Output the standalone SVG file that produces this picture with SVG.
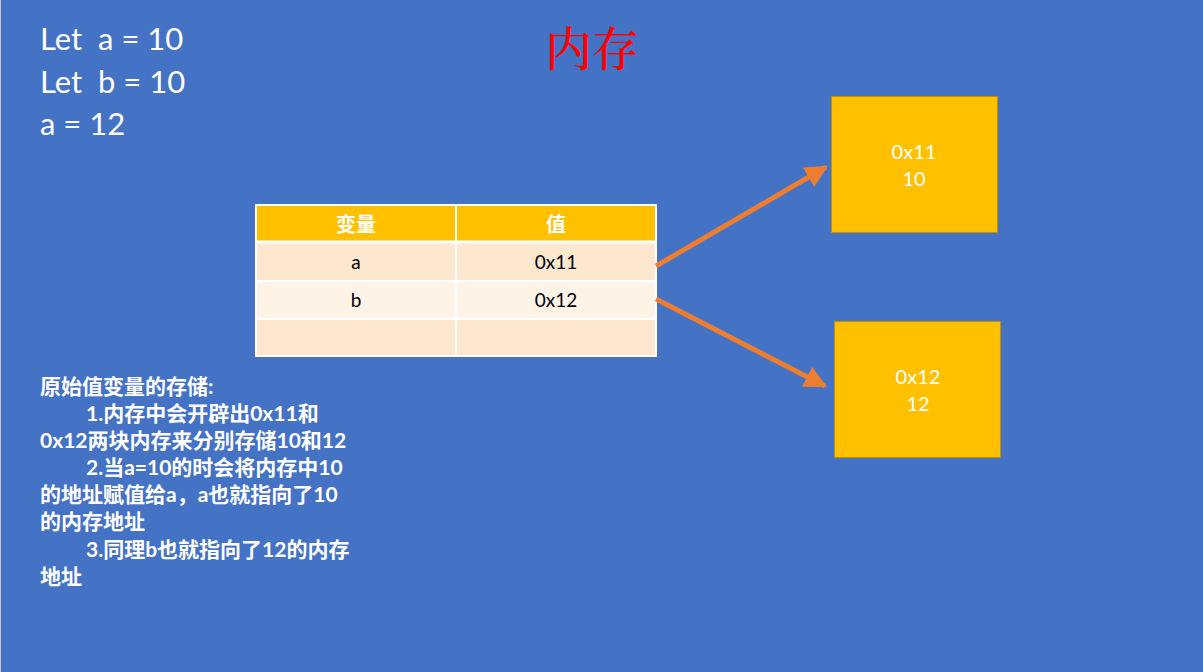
<svg xmlns="http://www.w3.org/2000/svg" width="1203" height="672" viewBox="0 0 1203 672">
<style>
.code{font-family:Lato,"Liberation Sans","Noto Sans CJK SC",sans-serif;font-size:31px;fill:#fff}
.th{font-family:"Noto Sans CJK SC",sans-serif;font-size:20px;font-weight:bold;fill:#fff;text-anchor:middle}
.td{font-family:Lato,"Liberation Sans",sans-serif;font-size:19px;fill:#000;text-anchor:middle}
.bx{font-family:Lato,"Liberation Sans",sans-serif;font-size:20px;fill:#fff;text-anchor:middle}
.note{font-family:Lato,"Noto Sans CJK SC",sans-serif;font-size:21px;fill:#fff;font-weight:bold}
.box{fill:#FFC000;stroke:#BF9000;stroke-width:1}
.conn{stroke:#ED7D31;stroke-width:5;fill:none;marker-end:url(#ah)}
</style>
<defs>
<marker id="ah" viewBox="0 0 10 10" refX="9" refY="5" markerWidth="4.5" markerHeight="4.5" orient="auto" markerUnits="strokeWidth">
<path d="M0,0 L10,5 L0,10 z" fill="#ED7D31"/>
</marker>
</defs>
<rect x="0" y="0" width="1203" height="672" fill="#4472C4"/>
<line x1="0.5" y1="0" x2="0.5" y2="672" stroke="#c8c8c8" stroke-width="1"/>
<g id="code">
<text class="code" x="40" y="50" xml:space="preserve">Let  a = 10</text>
<text class="code" x="40" y="93" xml:space="preserve">Let  b = 10</text>
<text class="code" x="40" y="135">a = 12</text>
</g>
<g id="title">
<text x="592" y="66" font-family="'Noto Serif CJK SC','Noto Sans CJK SC',serif" font-size="47" font-weight="500" fill="#FF0000" text-anchor="middle">内存</text>
</g>
<g id="table">
<rect x="256" y="205" width="400" height="37" fill="#FFC000"/>
<rect x="256" y="242" width="400" height="39" fill="#FDE7CE"/>
<rect x="256" y="281" width="400" height="38" fill="#FEF3E7"/>
<rect x="256" y="319" width="400" height="37" fill="#FDE7CE"/>
<g stroke="#fff" stroke-width="2" fill="none">
<rect x="256" y="205" width="400" height="151"/>
<line x1="456" y1="205" x2="456" y2="356"/>
<line x1="256" y1="242" x2="656" y2="242" stroke-width="3"/>
<line x1="256" y1="281" x2="656" y2="281"/>
<line x1="256" y1="319" x2="656" y2="319"/>
</g>
<text class="th" x="356" y="232">变量</text>
<text class="th" x="556" y="232">值</text>
<text class="td" x="356" y="269">a</text>
<text class="td" x="556" y="269">0x11</text>
<text class="td" x="356" y="307">b</text>
<text class="td" x="556" y="307">0x12</text>
</g>
<g id="box1">
<rect class="box" x="831.5" y="96.5" width="166" height="136"/>
<text class="bx" x="914" y="159">0x11</text>
<text class="bx" x="914" y="186">10</text>
</g>
<g id="box2">
<rect class="box" x="834.5" y="321.5" width="166" height="136"/>
<text class="bx" x="918" y="384">0x12</text>
<text class="bx" x="918" y="411">12</text>
</g>
<g id="connectors">
<line class="conn" x1="656" y1="266" x2="826" y2="167"/>
<line class="conn" x1="656" y1="299" x2="825" y2="386"/>
</g>
<g id="note">
<text class="note" x="40" y="394">原始值变量的存储:</text>
<text class="note" x="86" y="421">1.内存中会开辟出0x11和</text>
<text class="note" x="40" y="448">0x12两块内存来分别存储10和12</text>
<text class="note" x="86" y="475">2.当a=10的时会将内存中10</text>
<text class="note" x="40" y="502">的地址赋值给a，a也就指向了10</text>
<text class="note" x="40" y="529">的内存地址</text>
<text class="note" x="86" y="557">3.同理b也就指向了12的内存</text>
<text class="note" x="40" y="584">地址</text>
</g>
</svg>
